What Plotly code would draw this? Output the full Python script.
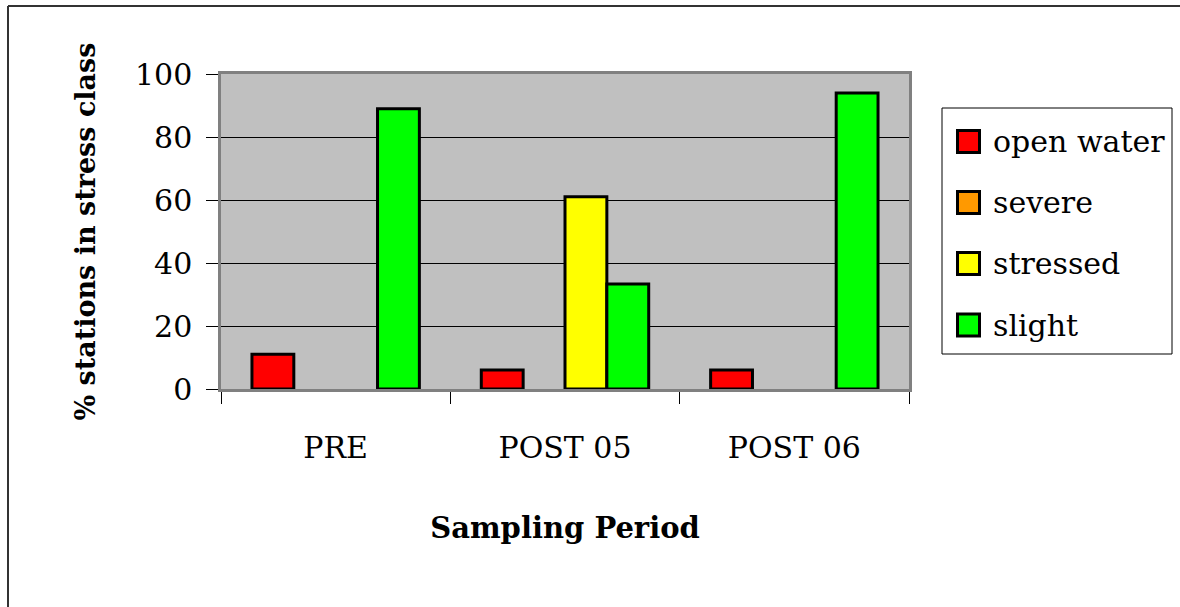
import plotly.graph_objects as go

categories = ["PRE", "POST 05", "POST 06"]
series_names = ["open water", "severe", "stressed", "slight"]
open_water = [11, 6, 6]
severe = [0, 0, 0]
stressed = [0, 61, 0]
slight = [89, 33.3, 94]
series_values = [open_water, severe, stressed, slight]
colors = ["#FF0000", "#FF9900", "#FFFF00", "#00FF00"]
y_ticks = [0, 20, 40, 60, 80, 100]

W, H = 1180, 607
L, R, T, B = 221, 909, 74, 389
FONT = "DejaVu Serif"

def px(x):
    return (x - L) / (R - L)

def py(y):
    return (B - y) / (B - T)

fig = go.Figure()
for name, vals, col in zip(series_names, series_values, colors):
    fig.add_trace(go.Bar(
        x=categories, y=vals, name=name,
        marker=dict(color=col,
                    line=dict(color="black", width=[3 if v > 0 else 0 for v in vals])),
        showlegend=False,
    ))

shapes = []
annotations = []
# outer frame (top and left edges)
shapes.append(dict(type="line", xref="paper", yref="paper",
                   x0=px(8), y0=py(6), x1=px(1180), y1=py(6),
                   line=dict(color="#333333", width=2)))
shapes.append(dict(type="line", xref="paper", yref="paper",
                   x0=px(8), y0=py(6), x1=px(8), y1=py(607),
                   line=dict(color="#333333", width=2)))
# legend box
shapes.append(dict(type="rect", xref="paper", yref="paper",
                   x0=px(942), y0=py(108), x1=px(1172), y1=py(354),
                   line=dict(color="black", width=1), fillcolor="white"))
row_centers = [141.5, 202.5, 263.5, 325]
for name, col, yc in zip(series_names, colors, row_centers):
    shapes.append(dict(type="rect", xref="paper", yref="paper",
                       x0=px(957.5), y0=py(yc - 11), x1=px(979.5), y1=py(yc + 11),
                       line=dict(color="black", width=3), fillcolor=col))
    annotations.append(dict(xref="paper", yref="paper", x=px(991), y=py(yc),
                            text=name, showarrow=False, xanchor="left", yanchor="middle",
                            font=dict(family=FONT, size=30, color="black")))

fig.update_layout(
    width=W, height=H,
    margin=dict(l=L, r=W - R, t=T, b=H - B, pad=0),
    paper_bgcolor="white", plot_bgcolor="#C0C0C0",
    barmode="group", bargap=0.27, bargroupgap=0,
    font=dict(family=FONT, size=30, color="black"),
    shapes=shapes, annotations=annotations,
    xaxis=dict(
        type="category", tickson="boundaries", ticks="outside", ticklen=12,
        tickcolor="black", tickwidth=1, showgrid=False,
        showline=True, linecolor="#808080", linewidth=2.5, mirror=True,
        tickfont=dict(family=FONT, size=30), ticklabelstandoff=30,
        title=dict(text="<b>Sampling Period</b>", font=dict(family=FONT, size=29), standoff=54),
    ),
    yaxis=dict(
        range=[0, 100], tickvals=y_ticks, ticks="outside", ticklen=12,
        tickcolor="black", tickwidth=1, showgrid=True, gridcolor="black", gridwidth=1,
        zeroline=False, showline=True, linecolor="#808080", linewidth=2.5, mirror=True,
        tickfont=dict(family=FONT, size=30), ticklabelstandoff=8,
        title=dict(text="<b>% stations in stress class</b>", font=dict(family=FONT, size=27), standoff=32),
    ),
)

fig.write_html("out.html")
